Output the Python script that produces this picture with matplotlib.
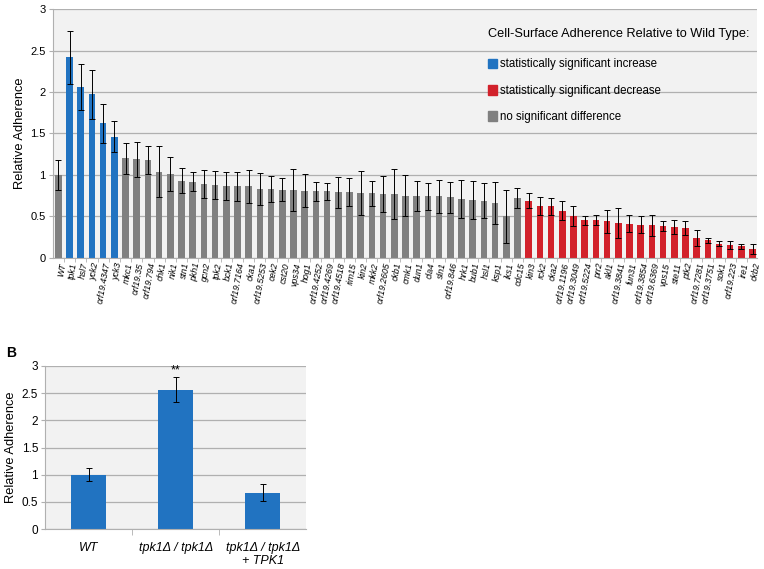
import matplotlib
matplotlib.use("Agg")
import matplotlib.pyplot as plt
from matplotlib.patches import Patch
import numpy as np

plt.rcParams['font.family'] = ['Liberation Sans', 'DejaVu Sans']

# panel A: relative adherence of kinase mutants
mutants = ["WT", "tpk1", "hsl7", "yck2", "orf19.4347", "yck3", "mkc1", "orf19.35",
           "orf19.794", "chk1", "nik1", "stn1", "pkh1", "gcn2", "tpk2", "bck1",
           "orf19.7164", "cka1", "orf19.5253", "cek2", "cst20", "vps34", "hog1",
           "orf19.4252", "orf19.4269", "orf19.4518", "rim15", "kin2", "mkk2",
           "orf19.2605", "ckb1", "cmk1", "dun1", "cla4", "sln1", "orf19.846", "hrk1",
           "bub1", "hsl1", "ksp1", "iks1", "cdc15", "kin3", "rck2", "cka2",
           "orf19.1196", "orf19.3049", "orf19.5224", "prr2", "akl1", "orf19.3841",
           "fun31", "orf19.3854", "orf19.6369", "vps15", "ste11", "ptk2",
           "orf19.7281", "orf19.3751", "sok1", "orf19.223", "ire1", "ckb2"]
adherence = [1.00, 2.42, 2.06, 1.97, 1.62, 1.46, 1.20, 1.19, 1.18, 1.04, 1.01, 0.93,
             0.92, 0.89, 0.88, 0.87, 0.86, 0.86, 0.83, 0.83, 0.82, 0.82, 0.81, 0.80,
             0.80, 0.79, 0.79, 0.78, 0.78, 0.77, 0.77, 0.75, 0.75, 0.74, 0.74, 0.73,
             0.71, 0.70, 0.69, 0.66, 0.50, 0.72, 0.69, 0.62, 0.62, 0.57, 0.50, 0.45,
             0.45, 0.44, 0.42, 0.41, 0.40, 0.39, 0.38, 0.37, 0.36, 0.24, 0.21, 0.17,
             0.15, 0.14, 0.11]
adherence_err = [0.18, 0.32, 0.28, 0.29, 0.24, 0.19, 0.19, 0.21, 0.17, 0.31, 0.21, 0.15,
                 0.12, 0.17, 0.17, 0.17, 0.17, 0.20, 0.19, 0.16, 0.14, 0.25, 0.20, 0.12,
                 0.10, 0.19, 0.17, 0.27, 0.15, 0.22, 0.30, 0.25, 0.18, 0.16, 0.20, 0.19,
                 0.23, 0.23, 0.21, 0.25, 0.32, 0.12, 0.09, 0.11, 0.10, 0.11, 0.12, 0.05,
                 0.06, 0.14, 0.18, 0.10, 0.10, 0.13, 0.06, 0.08, 0.08, 0.10, 0.03, 0.03,
                 0.05, 0.03, 0.06]
# 'up' = significant increase, 'down' = significant decrease, 'ns' = no difference
status = ["ns"] + ["up"] * 5 + ["ns"] * 36 + ["down"] * 21

# panel B: tpk1 deletion and complementation
strains = ["WT", "tpk1Δ / tpk1Δ", "tpk1Δ / tpk1Δ\n+ TPK1"]
strain_adherence = [1.00, 2.56, 0.67]
strain_err = [0.12, 0.23, 0.16]

blue = "#2173c1"
red = "#d2212b"
gray = "#808080"
colors = {"up": blue, "down": red, "ns": gray}
bg = "#f2f2f2"
grid_c = "#b0b0b0"
yticks = np.arange(0, 3.01, 0.5)
ylabels = ["0", "0.5", "1", "1.5", "2", "2.5", "3"]

fig = plt.figure(figsize=(7.64, 5.69), dpi=100)

# ---- panel A ----
ax = fig.add_axes([0.069, 0.547, 0.922, 0.437])
ax.set_facecolor(bg)
x = np.arange(len(mutants))
ax.bar(x, adherence, width=0.58, color=[colors[s] for s in status], zorder=2)
ax.errorbar(x, adherence, yerr=adherence_err, fmt="none", ecolor="black",
            elinewidth=0.7, capsize=2, capthick=0.7, zorder=3)
ax.set_xlim(-0.5, 62.4)
ax.set_ylim(0, 3)
ax.set_yticks(yticks)
ax.set_yticklabels(ylabels)
ax.yaxis.grid(True, color=grid_c, linewidth=0.9, zorder=0)
ax.set_axisbelow(True)
ax.set_xticks(x)
ax.set_xticklabels(mutants, rotation=80, fontsize=6.3, style="italic", ha="right",
                   va="top", rotation_mode="anchor")
ax.set_xticks(np.arange(0.5, 62, 1), minor=True)
ax.tick_params(axis="x", which="major", length=0, pad=3)
ax.tick_params(axis="x", which="minor", length=3, color=grid_c)
ax.tick_params(axis="y", length=3, labelsize=8, color=grid_c, pad=2)
ax.set_ylabel("Relative Adherence", fontsize=9.3, labelpad=3)
for side in ["top", "right"]:
    ax.spines[side].set_visible(False)
for side in ["left", "bottom"]:
    ax.spines[side].set_color(grid_c)

handles = [Patch(color=blue, label="statistically significant increase"),
           Patch(color=red, label="statistically significant decrease"),
           Patch(color=gray, label="no significant difference")]
leg = ax.legend(handles=handles, title="Cell-Surface Adherence Relative to Wild Type:",
                loc="upper right", bbox_to_anchor=(1.0, 0.955), frameon=False,
                fontsize=8.3, title_fontsize=9.2, alignment="left",
                handlelength=0.8, handleheight=0.9, handletextpad=0.3,
                labelspacing=1.25, borderaxespad=0.3)
leg._legend_box.sep = 13

# ---- panel B ----
bx = fig.add_axes([0.059, 0.070, 0.342, 0.287])
bx.set_facecolor(bg)
xb = np.arange(len(strains))
bx.bar(xb, strain_adherence, width=0.4, color=blue, zorder=2)
bx.errorbar(xb, strain_adherence, yerr=strain_err, fmt="none", ecolor="black",
            elinewidth=0.7, capsize=2.5, capthick=0.7, zorder=3)
bx.text(1, strain_adherence[1] + strain_err[1] + 0.02, "**", ha="center",
        va="bottom", fontsize=9)
bx.set_xlim(-0.5, 2.5)
bx.set_ylim(0, 3)
bx.set_yticks(yticks)
bx.set_yticklabels(ylabels)
bx.yaxis.grid(True, color=grid_c, linewidth=0.9, zorder=0)
bx.set_axisbelow(True)
bx.set_xticks(xb)
bx.set_xticklabels(strains, style="italic", fontsize=9)
bx.set_xticks([0.5, 1.5], minor=True)
bx.tick_params(axis="x", which="major", length=0, pad=9)
bx.tick_params(axis="x", which="minor", length=4, color=grid_c)
bx.tick_params(axis="y", length=3, labelsize=8.5, color=grid_c, pad=2)
bx.set_ylabel("Relative Adherence", fontsize=9.3, labelpad=3)
for side in ["top", "right"]:
    bx.spines[side].set_visible(False)
for side in ["left", "bottom"]:
    bx.spines[side].set_color(grid_c)

fig.text(0.008, 0.372, "B", fontsize=10, fontweight="bold")

fig.savefig("out.png", dpi=100)
